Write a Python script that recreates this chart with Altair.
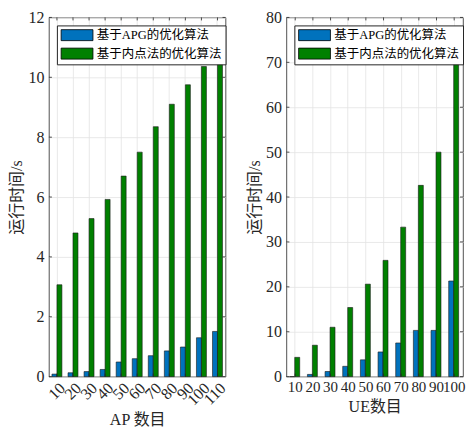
import altair as alt
import pandas as pd

series = ["基于APG的优化算法", "基于内点法的优化算法"]
colors = ["#0072BD", "#008000"]

ap_labels = ["10", "20", "30", "40", "50", "60", "70", "80", "90", "100", "110"]
ap_apg = [0.085, 0.13, 0.17, 0.24, 0.49, 0.60, 0.70, 0.86, 0.99, 1.30, 1.51]
ap_ipm = [3.07, 4.80, 5.28, 5.92, 6.70, 7.50, 8.35, 9.10, 9.75, 10.36, 10.90]

ue_labels = ["10", "20", "30", "40", "50", "60", "70", "80", "90", "100"]
ue_apg = [0.0, 0.5, 1.15, 2.3, 3.75, 5.5, 7.5, 10.3, 10.3, 21.3]
ue_ipm = [4.3, 7.0, 11.0, 15.4, 20.6, 25.9, 33.3, 42.6, 50.0, 71.1]

ap_yticks = [0, 2, 4, 6, 8, 10, 12]
ue_yticks = [0, 10, 20, 30, 40, 50, 60, 70, 80]

SERIF = "Liberation Serif, Noto Sans CJK SC"
W, H = 177, 360
TICK = "#262626"


def table(labels, a, b):
    rows = []
    for lab, va, vb in zip(labels, a, b):
        rows.append({"cat": lab, "series": series[0], "val": va})
        rows.append({"cat": lab, "series": series[1], "val": vb})
    return pd.DataFrame(rows)


def panel(df, labels, yticks, xtitle, angle, xfont):
    ymax = yticks[-1]
    legend = alt.Legend(
        title=None, orient="none", legendX=8, legendY=8,
        symbolType="M-1,-1H4.8V1H-1Z", symbolSize=121,
        symbolStrokeColor="#000000", symbolStrokeWidth=0.8, symbolOpacity=1,
        labelFont=SERIF, labelFontSize=12.5, labelColor="#000000",
        labelOffset=24, rowPadding=3.5, padding=3.5,
        fillColor="#ffffff", strokeColor="#262626",
    )
    xaxis = alt.Axis(
        title=xtitle, labelAngle=angle, labelFont=SERIF, labelFontSize=xfont,
        labelColor="#262626", titleFont=SERIF, titleFontSize=16,
        titleFontWeight="normal", titleColor="#262626", ticks=False,
        domain=False, grid=True, gridColor="#e3e3e3", gridWidth=0.8,
        bandPosition=0.5, labelOverlap=False, labelPadding=3, titlePadding=4,
    )
    yaxis = alt.Axis(
        title="运行时间/s", values=yticks,
        labelFont=SERIF, labelFontSize=16, labelColor="#262626",
        titleFont=SERIF, titleFontSize=16, titleFontWeight="normal",
        titleColor="#262626", ticks=False, domain=False, grid=True,
        gridColor="#e3e3e3", gridWidth=0.8, labelPadding=5, titlePadding=3,
    )
    xscale = alt.Scale(paddingInner=0.38, paddingOuter=0.19)
    yscale = alt.Scale(domain=[0, ymax], nice=False)

    bars = alt.Chart(df).mark_bar(stroke="#1a1a1a", strokeWidth=0.6).encode(
        x=alt.X("cat:N", sort=labels, axis=xaxis, scale=xscale),
        xOffset=alt.XOffset("series:N", sort=series),
        y=alt.Y("val:Q", axis=yaxis, scale=yscale),
        color=alt.Color("series:N", sort=series,
                        scale=alt.Scale(domain=series, range=colors),
                        legend=legend),
    )

    ydf = pd.DataFrame({"val": yticks})
    xdf = pd.DataFrame({"cat": labels})
    rule = dict(color=TICK, strokeWidth=0.8)
    ytl = alt.Chart(ydf).mark_rule(**rule).encode(
        y=alt.Y("val:Q", axis=yaxis, scale=yscale),
        x=alt.value(0), x2=alt.value(3))
    ytr = alt.Chart(ydf).mark_rule(**rule).encode(
        y=alt.Y("val:Q", axis=yaxis, scale=yscale),
        x=alt.value(W - 3), x2=alt.value(W))
    xtb = alt.Chart(xdf).mark_rule(**rule).encode(
        x=alt.X("cat:N", sort=labels, axis=xaxis, scale=xscale),
        y=alt.value(H - 3), y2=alt.value(H))
    xtt = alt.Chart(xdf).mark_rule(**rule).encode(
        x=alt.X("cat:N", sort=labels, axis=xaxis, scale=xscale),
        y=alt.value(0), y2=alt.value(3))
    return alt.layer(bars, ytl, ytr, xtb, xtt).properties(width=W, height=H)


left = panel(table(ap_labels, ap_apg, ap_ipm), ap_labels, ap_yticks,
             "AP 数目", -45, 16)
right = panel(table(ue_labels, ue_apg, ue_ipm), ue_labels, ue_yticks,
              "UE数目", 0, 15)

chart = alt.hconcat(left, right, spacing=16).resolve_legend(
    color="independent"
).configure_view(stroke="#262626", strokeWidth=0.8).properties(
    padding={"top": 0, "bottom": -2, "left": 0, "right": 0},
    background="#ffffff",
)

chart.save("out.html", embed_options={"renderer": "svg", "actions": False})
